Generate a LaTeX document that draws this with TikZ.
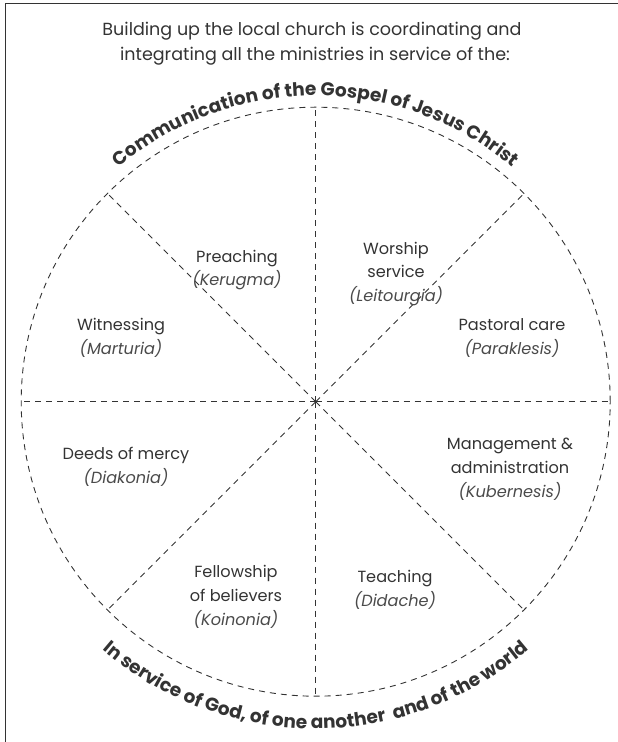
\documentclass[tikz,border=0pt]{standalone}
\usepackage{fontspec}
\setmainfont{Poppins}
\usetikzlibrary{decorations.text,calc}
\definecolor{ink}{HTML}{333333}
\definecolor{inkit}{HTML}{4A4A4A}
\begin{document}
\begin{tikzpicture}[x=1bp,y=1bp,
  dline/.style={draw=ink, line width=0.9bp, dash pattern=on 6bp off 5bp},
  frame/.style={draw=ink, line width=1.2bp},
  titletext/.style={font=\fontsize{17.6}{24}\selectfont, text=ink, inner sep=0, anchor=base},
  lab/.style={font=\fontsize{16.2}{24}\selectfont, text=ink, align=center, inner sep=0},
]
\useasboundingbox (0,0) rectangle (618,742);
\coordinate (F1) at (5.5,0);
\coordinate (F2) at (5.5,738.5);
\coordinate (F3) at (618,738.5);
\draw[frame] (F1) -- (F2) -- (F3);

\coordinate (C) at (315.7,340.3);
\draw[dline] (C) circle[radius=294.5];
\foreach \a in {0,45,...,315} \draw[dline] (C) -- ++(\a:294.5);

\node[titletext] (t1) at (312,706) {Building up the local church is coordinating and};
\node[titletext] (t2) at (315,681) {integrating all the ministries in service of the:};

\path[decorate, decoration={text along path, text align=center,
  text={|\fontsize{18.6}{18}\selectfont\bfseries\color{ink}|Communication of the Gospel of Jesus Christ}}]
  ($(C)+(160:306)$) arc[start angle=160, end angle=20, radius=306];
\path[decorate, decoration={text along path, text align=center,
  text={|\fontsize{18.6}{18}\selectfont\bfseries\color{ink}|In service of God, of one another {\kern4bp}and of the world}}]
  ($(C)+(195:327)$) arc[start angle=195, end angle=345, radius=327];

\node[lab] (preach) at (237,472) {Preaching\\{\itshape\color{inkit}(Kerugma)}};
\node[lab] (worship) at (396,468) {Worship\\service\\{\itshape\color{inkit}(Leitourgia)}};
\node[lab] (witness) at (121,404) {Witnessing\\{\itshape\color{inkit}(Marturia)}};
\node[lab] (pastoral) at (512,404) {Pastoral care\\{\itshape\color{inkit}(Paraklesis)}};
\node[lab] (deeds) at (126,275) {Deeds of mercy\\{\itshape\color{inkit}(Diakonia)}};
\node[lab] (manage) at (510,273) {Management \&\\administration\\{\itshape\color{inkit}(Kubernesis)}};
\node[lab] (fellow) at (236,145) {Fellowship\\of believers\\{\itshape\color{inkit}(Koinonia)}};
\node[lab] (teach) at (395,152) {Teaching\\{\itshape\color{inkit}(Didache)}};
\end{tikzpicture}
\end{document}
